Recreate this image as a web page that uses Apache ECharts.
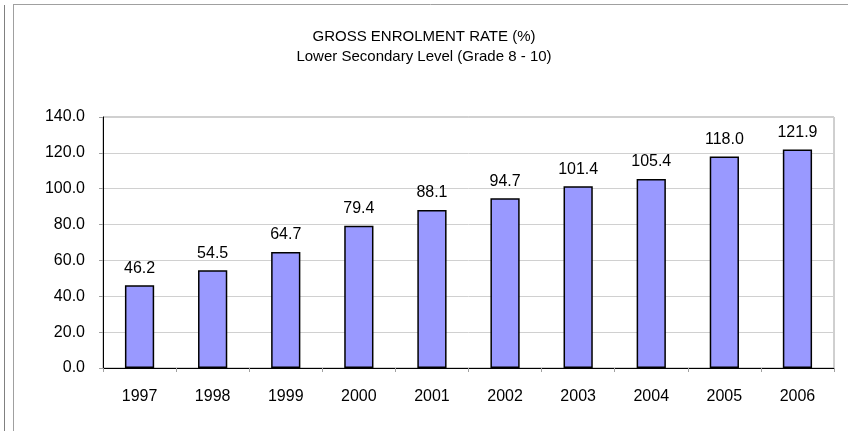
<!DOCTYPE html>
<html>
<head>
<meta charset="utf-8">
<script src="https://cdn.jsdelivr.net/npm/echarts@6/dist/echarts.min.js"></script>
<style>
html,body{margin:0;padding:0;background:#fff;}
#c{width:848px;height:431px;}
</style>
</head>
<body>
<div id="c"></div>
<script>
const years = ['1997','1998','1999','2000','2001','2002','2003','2004','2005','2006'];
const rates = [46.2, 54.5, 64.7, 79.4, 88.1, 94.7, 101.4, 105.4, 118.0, 121.9];
const titleLines = ['GROSS ENROLMENT RATE (%)', 'Lower Secondary Level (Grade 8 - 10)'];

const chart = echarts.init(document.getElementById('c'), null, {renderer: 'canvas'});
const FONT = '"Liberation Sans", Arial, sans-serif';
chart.setOption({
  animation: false,
  backgroundColor: '#fff',
  textStyle: {fontFamily: FONT},
  title: {
    text: titleLines.join('\n'),
    left: 'center',
    top: 22,
    textStyle: {fontSize: 15, fontWeight: 'normal', color: '#000', lineHeight: 20, fontFamily: FONT}
  },
  graphic: [
    {type: 'line', shape: {x1: 4.5, y1: 5, x2: 4.5, y2: 431}, style: {stroke: '#808080', lineWidth: 1}},
    {type: 'line', shape: {x1: 13.5, y1: 4, x2: 13.5, y2: 431}, style: {stroke: '#a0a0a0', lineWidth: 1}},
    {type: 'line', shape: {x1: 13, y1: 4.5, x2: 848, y2: 4.5}, style: {stroke: '#a0a0a0', lineWidth: 1}}
  ],
  grid: {left: 103, right: 14, top: 117, bottom: 63, show: true, borderColor: '#a0a0a0', borderWidth: 1},
  xAxis: {
    type: 'category',
    data: years,
    axisLine: {lineStyle: {color: '#000', width: 1}},
    axisTick: {show: true, length: 4, lineStyle: {color: '#a0a0a0'}},
    axisLabel: {fontSize: 16, color: '#000', margin: 21, fontFamily: FONT}
  },
  yAxis: {
    type: 'value',
    min: 0, max: 140, interval: 20,
    axisLine: {show: true, lineStyle: {color: '#000', width: 1}},
    axisTick: {show: true, length: 4, lineStyle: {color: '#a0a0a0'}},
    splitLine: {lineStyle: {color: '#d0d0d0'}},
    axisLabel: {fontSize: 16, color: '#000', margin: 18, fontFamily: FONT, formatter: v => v.toFixed(1)}
  },
  series: [{
    type: 'bar',
    data: rates,
    barWidth: '40%',
    itemStyle: {color: '#9999FF', borderColor: '#000', borderWidth: 1.5},
    label: {show: true, position: 'top', distance: 9, fontSize: 16, color: '#000', fontFamily: FONT, formatter: p => p.value.toFixed(1)}
  }]
});
</script>
</body>
</html>
